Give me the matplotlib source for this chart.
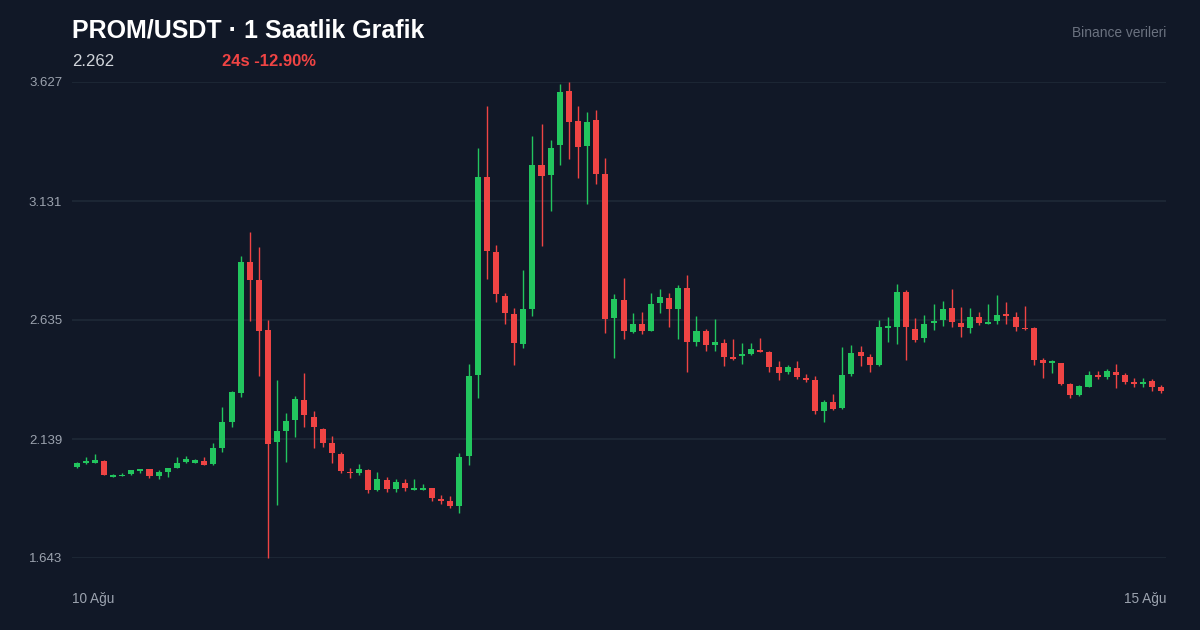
import numpy as np
import matplotlib.pyplot as plt

# hourly OHLC candles, PROM/USDT (10 Aug -> 15 Aug)
opens = [2.022, 2.038, 2.040, 2.049, 1.981, 1.984, 1.992, 2.006, 2.013, 1.986,
         2.002, 2.018, 2.042, 2.040, 2.049, 2.034, 2.103, 2.209, 2.332, 2.878,
         2.800, 2.593, 2.127, 2.174, 2.218, 2.300, 2.232, 2.182, 2.121, 2.078,
         2.003, 1.996, 2.011, 1.926, 1.968, 1.932, 1.957, 1.926, 1.928, 1.934,
         1.890, 1.881, 1.861, 2.067, 2.404, 3.230, 2.917, 2.736, 2.661, 2.536,
         2.681, 3.282, 3.239, 3.366, 3.591, 3.466, 3.360, 3.470, 3.244, 2.645,
         2.718, 2.586, 2.618, 2.590, 2.707, 2.728, 2.680, 2.767, 2.545, 2.590,
         2.532, 2.540, 2.481, 2.485, 2.495, 2.510, 2.503, 2.438, 2.418, 2.436,
         2.395, 2.384, 2.254, 2.293, 2.267, 2.411, 2.500, 2.481, 2.446, 2.600,
         2.607, 2.750, 2.599, 2.559, 2.621, 2.635, 2.684, 2.624, 2.603, 2.646,
         2.620, 2.632, 2.659, 2.648, 2.603, 2.603, 2.467, 2.455, 2.455, 2.367,
         2.321, 2.357, 2.407, 2.399, 2.418, 2.405, 2.378, 2.368, 2.380, 2.355]
closes = [2.039, 2.046, 2.050, 1.989, 1.987, 1.990, 2.009, 2.014, 1.985, 2.003,
          2.017, 2.040, 2.054, 2.050, 2.032, 2.100, 2.211, 2.333, 2.878, 2.802,
          2.590, 2.119, 2.172, 2.214, 2.305, 2.239, 2.188, 2.121, 2.079, 2.006,
          1.996, 2.013, 1.926, 1.971, 1.932, 1.960, 1.935, 1.935, 1.936, 1.893,
          1.882, 1.861, 2.062, 2.402, 3.230, 2.923, 2.745, 2.664, 2.538, 2.681,
          3.280, 3.235, 3.352, 3.587, 3.462, 3.356, 3.462, 3.244, 2.640, 2.721,
          2.590, 2.618, 2.590, 2.700, 2.730, 2.680, 2.767, 2.545, 2.590, 2.531,
          2.542, 2.481, 2.472, 2.493, 2.513, 2.502, 2.439, 2.414, 2.440, 2.397,
          2.385, 2.256, 2.293, 2.265, 2.407, 2.497, 2.484, 2.446, 2.606, 2.609,
          2.750, 2.605, 2.552, 2.617, 2.632, 2.681, 2.625, 2.605, 2.648, 2.621,
          2.628, 2.657, 2.652, 2.605, 2.596, 2.468, 2.457, 2.463, 2.368, 2.322,
          2.360, 2.406, 2.399, 2.422, 2.405, 2.378, 2.368, 2.378, 2.357, 2.338]
highs = [2.043, 2.065, 2.077, 2.051, 1.994, 1.997, 2.010, 2.015, 2.014, 2.010,
         2.018, 2.064, 2.068, 2.056, 2.064, 2.124, 2.271, 2.339, 2.902, 3.001,
         2.939, 2.635, 2.385, 2.246, 2.318, 2.413, 2.256, 2.185, 2.152, 2.084,
         2.018, 2.035, 2.014, 2.002, 1.981, 1.974, 1.974, 1.972, 1.950, 1.935,
         1.906, 1.901, 2.079, 2.451, 3.351, 3.528, 2.948, 2.746, 2.685, 2.842,
         3.401, 3.451, 3.384, 3.619, 3.627, 3.527, 3.501, 3.510, 3.309, 2.745,
         2.809, 2.665, 2.667, 2.749, 2.764, 2.748, 2.782, 2.821, 2.650, 2.598,
         2.639, 2.555, 2.555, 2.539, 2.538, 2.560, 2.504, 2.463, 2.447, 2.464,
         2.409, 2.400, 2.302, 2.325, 2.521, 2.530, 2.525, 2.492, 2.634, 2.648,
         2.785, 2.760, 2.643, 2.655, 2.700, 2.713, 2.764, 2.689, 2.684, 2.667,
         2.700, 2.739, 2.709, 2.668, 2.695, 2.605, 2.478, 2.468, 2.456, 2.372,
         2.362, 2.422, 2.422, 2.431, 2.452, 2.413, 2.393, 2.394, 2.388, 2.363]
lows = [2.018, 2.035, 2.039, 1.987, 1.979, 1.983, 1.991, 1.999, 1.978, 1.974,
        1.981, 2.017, 2.039, 2.039, 2.031, 2.032, 2.083, 2.190, 2.313, 2.632,
        2.402, 1.643, 1.864, 2.044, 2.146, 2.190, 2.100, 2.104, 2.037, 1.999,
        1.976, 1.990, 1.915, 1.924, 1.918, 1.917, 1.924, 1.925, 1.926, 1.882,
        1.867, 1.853, 1.832, 2.029, 2.309, 2.806, 2.711, 2.620, 2.449, 2.520,
        2.652, 2.945, 3.091, 3.280, 3.305, 3.228, 3.119, 3.201, 2.582, 2.478,
        2.557, 2.582, 2.575, 2.588, 2.663, 2.607, 2.557, 2.420, 2.528, 2.507,
        2.506, 2.443, 2.470, 2.450, 2.490, 2.501, 2.417, 2.386, 2.411, 2.390,
        2.378, 2.242, 2.211, 2.259, 2.264, 2.400, 2.445, 2.420, 2.445, 2.542,
        2.534, 2.468, 2.545, 2.545, 2.593, 2.611, 2.605, 2.563, 2.582, 2.615,
        2.619, 2.617, 2.617, 2.590, 2.595, 2.447, 2.395, 2.415, 2.363, 2.309,
        2.317, 2.356, 2.388, 2.388, 2.353, 2.370, 2.357, 2.357, 2.339, 2.330]

date_labels = ["10 Ağu", "15 Ağu"]
title = "PROM/USDT · 1 Saatlik Grafik"
last_price = "2.262"
change_text = "24s -12.90%"
source_text = "Binance verileri"

BG = "#111827"
GREEN = "#22c55e"
RED = "#ef4444"
GRID = "#1f2937"

plt.rcParams["font.family"] = ["Liberation Sans", "DejaVu Sans"]

fig = plt.figure(figsize=(12, 6.3), dpi=100, facecolor=BG)
ax = fig.add_axes([72 / 1200, 72 / 630, 1094 / 1200, 476 / 630], facecolor=BG)

o = np.array(opens)
c = np.array(closes)
h = np.array(highs)
l = np.array(lows)
x = np.arange(len(o))
cols = [GREEN if cc >= oo else RED for oo, cc in zip(o, c)]

# y range = data extremes, 4 equal steps
ymin, ymax = l.min(), h.max()
ticks = np.linspace(ymin, ymax, 5)
for t in ticks:
    ax.axhline(t, color=GRID, linewidth=1.2, zorder=0)

ax.vlines(x, l, h, colors=cols, linewidth=1, zorder=2, clip_on=False)
body = np.maximum(np.abs(c - o), 0.006)
ax.bar(x, body, bottom=np.minimum(o, c), width=0.66, color=cols, zorder=3,
       clip_on=False)

ax.set_xlim(-0.5, len(o) - 0.5)
ax.set_ylim(ymin, ymax)
ax.set_yticks(ticks)
ax.set_yticklabels([f"{t:.3f}" for t in ticks])
ax.set_xticks([])
ax.tick_params(axis="y", length=0, pad=7, labelsize=9.5, labelcolor="#9ca3af")
for s in ax.spines.values():
    s.set_visible(False)

def fx(px):
    return px / 1200

def fy(py):
    return 1 - py / 630

fig.text(fx(72), fy(30), title, color="white", fontsize=18, fontweight="bold",
         va="center", ha="left")
fig.text(fx(72), fy(61), last_price, color="#d1d5db", fontsize=12.1,
         va="center", ha="left")
fig.text(fx(222), fy(61), change_text, color=RED, fontsize=12,
         fontweight="bold", va="center", ha="left")
fig.text(fx(1166), fy(33), source_text, color="#6b7280", fontsize=9.9,
         va="center", ha="right")
fig.text(fx(72), fy(599), date_labels[0], color="#9ca3af", fontsize=9.8,
         va="center", ha="left")
fig.text(fx(1166), fy(599), date_labels[1], color="#9ca3af", fontsize=9.8,
         va="center", ha="right")

fig.savefig("out.png", dpi=100, facecolor=BG)
